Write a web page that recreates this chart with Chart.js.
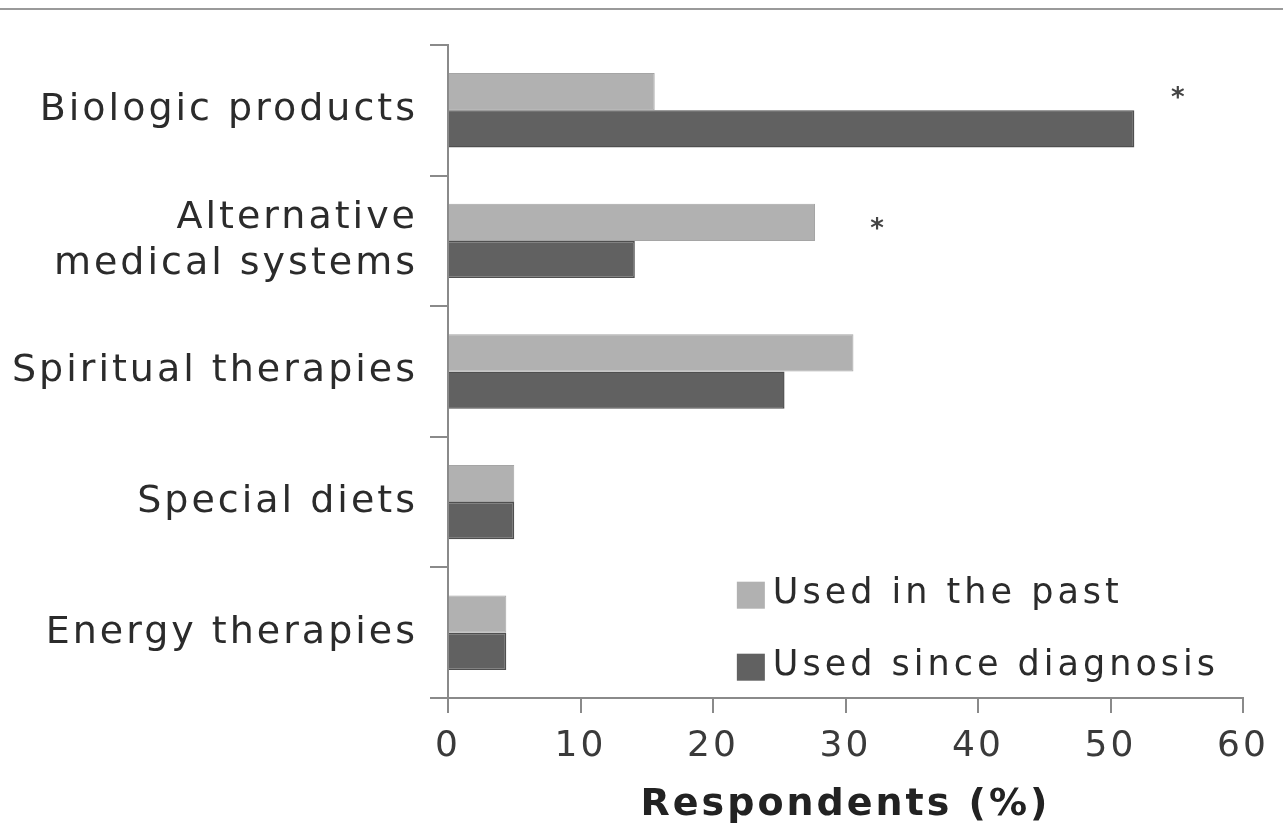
<!DOCTYPE html>
<html>
<head>
<meta charset="utf-8">
<script src="https://cdn.jsdelivr.net/npm/chart.js@4/dist/chart.umd.min.js"></script>
<style>
  html, body { margin: 0; padding: 0; background: #fff; }
  #wrap { width: 1283px; height: 834px; position: relative; }
</style>
</head>
<body>
<div id="wrap"><canvas id="c"></canvas></div>
<script>
var categories = [
  'Biologic products',
  ['Alternative', 'medical systems'],
  'Spiritual therapies',
  'Special diets',
  'Energy therapies'
];
var usedPast = [15.6, 27.7, 30.6, 5.0, 4.4];
var usedSince = [51.8, 14.1, 25.4, 5.0, 4.4];
var seriesNames = ['Used in the past', 'Used since diagnosis'];
var xTicks = [0, 10, 20, 30, 40, 50, 60];
// asterisks: [category index, x value]
var starMarks = [[0, 55.2], [1, 32.5]];

var FONT = '"DejaVu Sans", sans-serif';
var lightGrey = '#b1b1b1';
var darkGrey = '#616161';

var extras = {
  id: 'extras',
  beforeDraw: function (chart) {
    // the source type is set wide, so space the letters out a bit
    chart.ctx.letterSpacing = '3px';
  },
  afterDraw: function (chart) {
    var ctx = chart.ctx;
    var xs = chart.scales.x, ys = chart.scales.y;
    ctx.save();
    // rule across the top
    ctx.strokeStyle = '#9a9a9a';
    ctx.lineWidth = 2;
    ctx.beginPath();
    ctx.moveTo(0, 9);
    ctx.lineTo(chart.width, 9);
    ctx.stroke();

    // asterisks beside the significant pairs
    var meta = chart.getDatasetMeta(0);
    ctx.fillStyle = '#444';
    ctx.font = 'bold 26px ' + FONT;
    ctx.textAlign = 'center';
    ctx.textBaseline = 'middle';
    starMarks.forEach(function (s) {
      var bar = meta.data[s[0]];
      ctx.fillText('*', xs.getPixelForValue(s[1]), bar.y + 8);
    });

    // legend, lower right inside the plot
    ctx.letterSpacing = '4px';
    var lx = xs.getPixelForValue(21.8);
    var rows = [ys.getPixelForValue(4) - 39, ys.getPixelForValue(4) + 33];
    var cols = [lightGrey, darkGrey];
    ctx.font = '35px ' + FONT;
    ctx.textAlign = 'left';
    ctx.textBaseline = 'middle';
    for (var i = 0; i < 2; i++) {
      ctx.fillStyle = cols[i];
      ctx.fillRect(lx, rows[i] - 12, 28, 27);
      ctx.fillStyle = '#2b2b2b';
      ctx.fillText(seriesNames[i], lx + 36, rows[i]);
    }
    ctx.restore();
  }
};

new Chart(document.getElementById('c'), {
  type: 'bar',
  data: {
    labels: categories,
    datasets: [
      { label: seriesNames[0], data: usedPast, backgroundColor: lightGrey, borderColor: '#a5a5a5', borderWidth: 1 },
      { label: seriesNames[1], data: usedSince, backgroundColor: darkGrey, borderColor: '#4f4f4f', borderWidth: 1.5 }
    ]
  },
  options: {
    indexAxis: 'y',
    responsive: true,
    maintainAspectRatio: false,
    animation: false,
    datasets: { bar: { categoryPercentage: 0.57, barPercentage: 1 } },
    layout: { padding: { top: 45, right: 40, left: 0, bottom: 0 } },
    plugins: { legend: { display: false }, tooltip: { enabled: false } },
    scales: {
      x: {
        min: 0, max: 60,
        afterBuildTicks: function (s) { s.ticks = xTicks.map(function (v) { return { value: v }; }); },
        afterFit: function (s) { s.height = 136; },
        grid: { display: true, drawOnChartArea: false, tickLength: 15, color: '#8a8a8a', lineWidth: 2 },
        border: { display: true, color: '#8a8a8a', width: 2 },
        ticks: { color: '#3a3a3a', font: { family: FONT, size: 36 }, padding: 12 },
        title: { display: true, text: 'Respondents (%)', color: '#222', font: { family: FONT, size: 38, weight: 'bold' }, padding: { top: 0, bottom: 6 } }
      },
      y: {
        afterFit: function (s) { s.width = 448; },
        grid: { display: true, drawOnChartArea: false, offset: true, tickLength: 18, color: '#8a8a8a', lineWidth: 2 },
        border: { display: true, color: '#8a8a8a', width: 2 },
        ticks: { color: '#2b2b2b', font: { family: FONT, size: 38, lineHeight: 1.22 }, padding: 12 }
      }
    }
  },
  plugins: [extras]
});
</script>
</body>
</html>
